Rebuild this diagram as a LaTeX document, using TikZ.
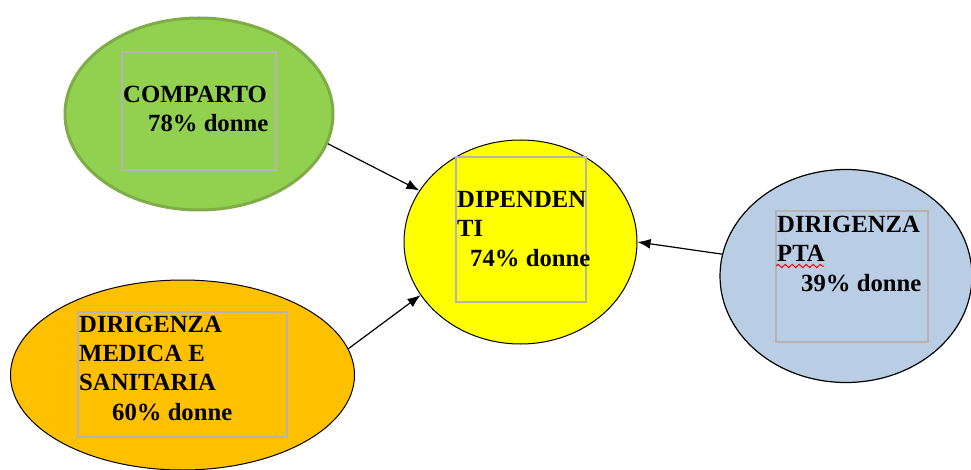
\documentclass[tikz,border=0pt]{standalone}
\usepackage{fontspec}
\setmainfont{Liberation Serif}
\usetikzlibrary{shapes.geometric,arrows.meta,decorations.pathmorphing}
\definecolor{cgreen}{RGB}{146,208,80}
\definecolor{cgreenb}{RGB}{128,172,72}
\definecolor{cyellow}{RGB}{255,255,0}
\definecolor{cblue}{RGB}{185,205,229}
\definecolor{corange}{RGB}{255,192,0}
\definecolor{boxgray}{RGB}{180,180,180}
\begin{document}
\begin{tikzpicture}[x=1pt,y=-1pt,
  blob/.style={ellipse,inner sep=0pt,draw=black,line width=1pt},
  tbox/.style={rectangle,draw=boxgray,line width=1.2pt,inner sep=0pt},
  lbl/.style={font=\fontsize{24.7}{29.3}\selectfont\bfseries,align=left,anchor=base west,inner sep=0pt},
  conn/.style={-{Latex[length=13pt,width=10pt]},line width=1.2pt}]
\useasboundingbox (0,0) rectangle (971,470);
% ellipses
\node[blob,fill=cgreen,draw=cgreenb,line width=3pt,minimum width=268pt,minimum height=192pt] (comparto) at (199,114) {};
\node[blob,fill=cyellow,minimum width=233pt,minimum height=204pt] (dip) at (520.5,242) {};
\node[blob,fill=cblue,line width=1.2pt,minimum width=252pt,minimum height=213pt] (pta) at (846,276) {};
\node[blob,fill=corange,minimum width=344pt,minimum height=190pt] (medica) at (182.5,375) {};
% text boxes
\node[tbox,minimum width=154pt,minimum height=118pt] (compartobox) at (199,111) {};
\node[tbox,minimum width=130pt,minimum height=145pt] (dipbox) at (521,229.5) {};
\node[tbox,minimum width=152pt,minimum height=131pt] (ptabox) at (852,276.5) {};
\node[tbox,minimum width=209pt,minimum height=125pt] (medicabox) at (182.5,374.5) {};
% texts (anchored at the baseline of the last line)
\node[lbl] (compartotxt) at (123,132) {COMPARTO\\\hspace*{25pt}78\% donne};
\node[lbl] (diptxt) at (457,266) {DIPENDEN\\TI\\\hspace*{13pt}74\% donne};
\node[lbl] (ptatxt) at (777,291) {DIRIGENZA\\PTA\\\hspace*{24pt}39\% donne};
\node[lbl] (medicatxt) at (79,420) {DIRIGENZA\\MEDICA E\\SANITARIA\\\hspace*{33pt}60\% donne};
\draw[red,line width=1pt,decorate,decoration={snake,amplitude=1.6pt,segment length=7pt}] (776,266) -- (824,266);
% connectors
\draw[conn] (comparto.-13.7) -- (dip.153.5);
\draw[conn] (medica.9.9) -- (dip.208.9);
\draw[conn] (pta.170.5) -- (dip.0.5);
\end{tikzpicture}
\end{document}
